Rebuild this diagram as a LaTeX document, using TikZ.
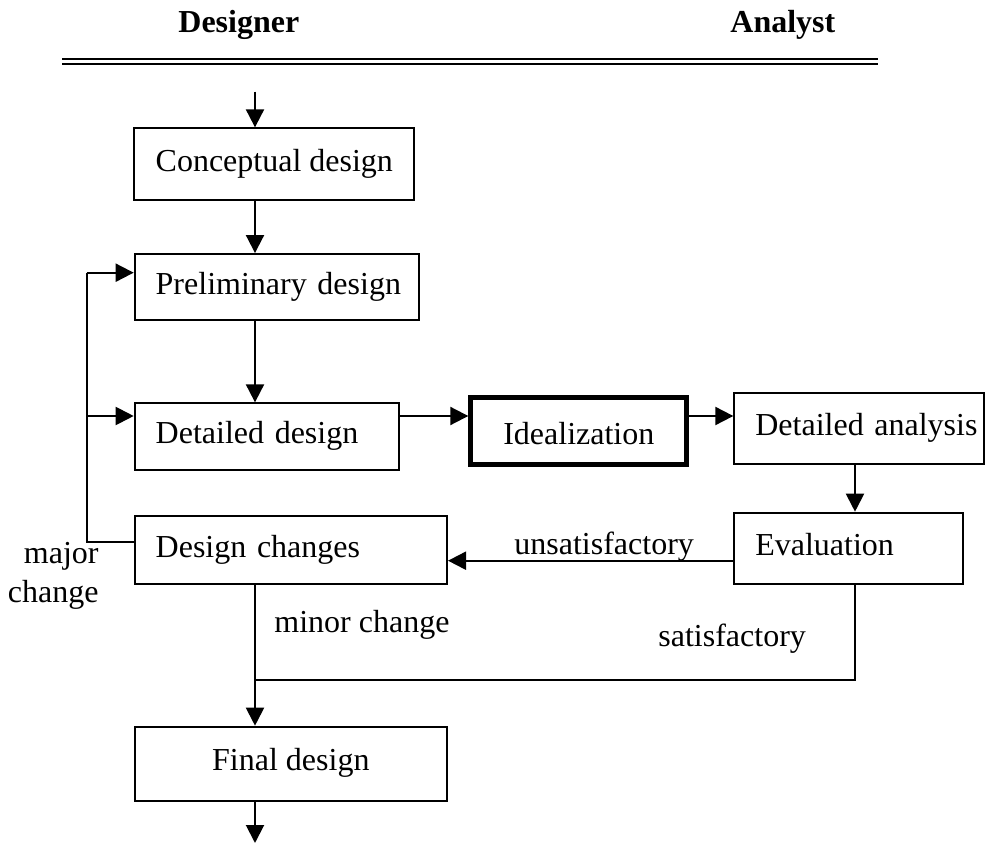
\documentclass[tikz,border=0pt]{standalone}
\usepackage{fontspec}
\setmainfont{Liberation Serif}
\usetikzlibrary{arrows.meta}
\begin{document}
\begin{tikzpicture}[x=0.5pt,y=-0.5pt,
  every node/.style={font=\fontsize{16}{19.5}\selectfont},
  box/.style={draw, line width=1pt, inner sep=0pt, text height=11.2pt, text depth=4pt},
  lbox/.style={box, align=left},
  thickbox/.style={box, line width=2.5pt, text height=13pt, text depth=0pt},
  arr/.style={-{Triangle[length=9pt,width=9pt]}, line width=1pt},
  ln/.style={line width=1pt},
  lbl/.style={inner sep=0pt}]
\useasboundingbox (0,0) rectangle (986,844);

% headers
\node[lbl, font=\fontsize{16}{19.5}\selectfont\bfseries, anchor=base west] (hd) at (178,33) {Designer};
\node[lbl, font=\fontsize{16}{19.5}\selectfont\bfseries, anchor=base west] (ha) at (730,33) {Analyst};
\coordinate (rl) at (62,59.5);
\coordinate (rr) at (878,59.5);
\draw[ln] (rl) -- (rr);
\draw[ln] ([yshift=-2.5pt]rl) -- ([yshift=-2.5pt]rr);

% boxes
\node[box, minimum width=140pt, minimum height=35.85pt] (conc) at (274.3,164.2) {Conceptual design};
\node[lbox, minimum width=142.3pt, text width=142.3pt, minimum height=33.15pt] (prel) at (277,287.2) {\hspace*{10.5pt}\mbox{Preliminary design}};
\node[lbox, minimum width=132.15pt, text width=132.15pt, minimum height=33.35pt] (det) at (266.85,436.7) {\hspace*{10.5pt}\mbox{Detailed design}};
\node[lbox, minimum width=156.15pt, text width=156.15pt, minimum height=34.15pt] (chg) at (290.85,550.2) {\hspace*{10.5pt}\mbox{Design changes}};
\node[thickbox, minimum width=108pt, minimum height=33.65pt] (ideal) at (578.8,431.2) {Idealization};
\node[lbox, minimum width=124.85pt, text width=124.85pt, minimum height=35.8pt] (ana) at (859.2,428.5) {\hspace*{10.5pt}\mbox{Detailed analysis}};
\node[lbox, minimum width=114.5pt, text width=114.5pt, minimum height=35.8pt] (eval) at (848.8,548.5) {\hspace*{10.5pt}\mbox{Evaluation}};
\node[box, minimum width=155.85pt, minimum height=37pt] (final) at (290.85,763.7) {Final design};

% helper coordinates
\coordinate (start) at (255,91.7);
\coordinate (stop) at (255,843);
\coordinate (rowA) at (0,416);
\coordinate (rowB) at (0,560.7);
\coordinate (rowC) at (0,542);
\coordinate (colR) at (855,0);
\coordinate (fbT) at (86.7,272.7);
\coordinate (fbM) at (86.7,416);
\coordinate (fbB) at (86.7,542);
\coordinate (join) at (255,680);
\coordinate (corner) at (855,680);

% main flow
\draw[arr] (start) -- (start |- conc.north);
\draw[arr] (conc.south -| start) -- (prel.north -| start);
\draw[arr] (prel.south -| start) -- (det.north -| start);
\draw[arr] (det.east |- rowA) -- (ideal.west |- rowA);
\draw[arr] (ideal.east |- rowA) -- (ana.west |- rowA);
\draw[arr] (ana.south -| colR) -- (eval.north -| colR);
\draw[arr] (eval.west |- rowB) -- (chg.east |- rowB);

% feedback
\draw[ln] (chg.west |- rowC) -- (fbB) -- (fbT);
\draw[arr] (fbT) -- (prel.west |- fbT);
\draw[arr] (fbM) -- (det.west |- fbM);

% to final
\draw[arr] (chg.south -| start) -- (final.north -| start);
\draw[ln] (eval.south -| colR) -- (corner) -- (join);
\draw[arr] (final.south -| start) -- (stop);

% labels
\node[lbl, anchor=base west] (lunsat) at (514,555) {unsatisfactory};
\node[lbl, anchor=base east, align=right] (lmajor) at (99,603) {major\\change};
\node[lbl, anchor=base west] (lminor) at (274,632.7) {minor change};
\node[lbl, anchor=base west] (lsat) at (658,646.7) {satisfactory};
\end{tikzpicture}
\end{document}
